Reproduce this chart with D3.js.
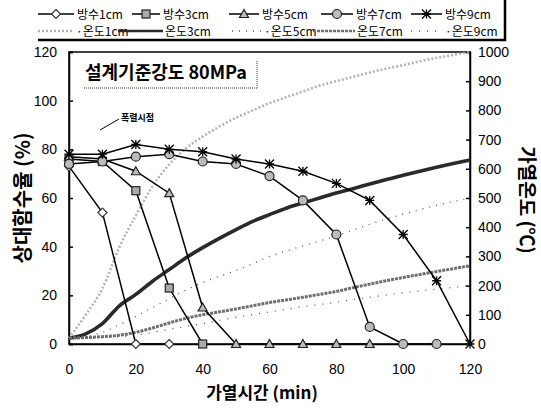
<!DOCTYPE html>
<html>
<head>
<meta charset="utf-8">
<script src="https://cdn.jsdelivr.net/npm/d3@7"></script>
<style>
  body { margin: 0; background: #fff; }
  text { font-family: "Liberation Sans", Arial, sans-serif; }
  .kr { font-family: "Noto Sans CJK KR", "Noto Sans", sans-serif; }
</style>
</head>
<body>
<svg id="chart" width="541" height="408"></svg>
<script>
// moisture (left axis, %), measured every 10 min
const moistTime = [0, 10, 20, 30, 40, 50, 60, 70, 80, 90, 100, 110, 120];
const moist1 = [73, 54, 0, 0];
const moist3 = [76, 75, 63, 23, 0];
const moist5 = [77, 76, 71, 62, 15, 0, 0, 0, 0, 0];
const moist7 = [74, 75, 77, 78, 75, 74, 69, 59, 45, 7, 0, 0];
const moist9 = [78, 78, 82, 80, 79, 76, 74, 71, 66, 59, 45, 26, 0];

// temperature (right axis, ℃), every 5 min
const tempTime = [0, 5, 10, 15, 20, 25, 30, 35, 40, 45, 50, 55, 60, 65, 70, 75, 80, 85, 90, 95, 100, 105, 110, 115, 120];
const temp1 = [20, 100, 190, 330, 440, 540, 615, 670, 710, 745, 775, 800, 825, 845, 865, 885, 900, 915, 930, 943, 955, 968, 980, 990, 1000];
const temp3 = [20, 35, 70, 130, 170, 215, 255, 295, 330, 362, 392, 420, 443, 465, 483, 500, 517, 532, 548, 563, 578, 592, 605, 618, 630];
const temp5 = [20, 25, 40, 65, 95, 125, 155, 185, 210, 232, 252, 275, 300, 318, 336, 353, 370, 390, 410, 428, 445, 460, 475, 488, 500];
const temp7 = [20, 22, 25, 30, 40, 55, 72, 88, 100, 110, 120, 131, 142, 151, 160, 170, 180, 193, 205, 217, 228, 238, 248, 258, 268];
const temp9 = [20, 20, 22, 25, 30, 40, 50, 60, 70, 81, 92, 101, 110, 119, 128, 135, 143, 152, 160, 168, 175, 182, 188, 194, 200];

const xTicks = [0, 20, 40, 60, 80, 100, 120];
const leftTicks = [0, 20, 40, 60, 80, 100, 120];
const rightTicks = [0, 100, 200, 300, 400, 500, 600, 700, 800, 900, 1000];

const moistSeries = [
  {name: "방수1cm", values: moist1, symbol: "diamond"},
  {name: "방수3cm", values: moist3, symbol: "square"},
  {name: "방수5cm", values: moist5, symbol: "triangle"},
  {name: "방수7cm", values: moist7, symbol: "circle"},
  {name: "방수9cm", values: moist9, symbol: "asterisk"}
];
const tempSeries = [
  {name: "·온도1cm", values: temp1, stroke: "#b4b4b4", width: 2.6, dash: "2,2"},
  {name: "온도3cm", values: temp3, stroke: "#2a2a2a", width: 3.6, dash: null},
  {name: "·온도5cm", values: temp5, stroke: "#555", width: 1.3, dash: "1,6"},
  {name: "온도7cm", values: temp7, stroke: "#6e6e6e", width: 3, dash: "3,1"},
  {name: "·온도9cm", values: temp9, stroke: "#555", width: 1.3, dash: "1,7"}
];

const svg = d3.select("#chart");
const x = d3.scaleLinear().domain([0, 120]).range([69, 470]);
const yL = d3.scaleLinear().domain([0, 120]).range([344, 52]);
const yR = d3.scaleLinear().domain([0, 1000]).range([344, 52]);

// plot frame
svg.append("rect")
  .attr("x", x(0)).attr("y", yL(120))
  .attr("width", x(120) - x(0)).attr("height", yL(0) - yL(120))
  .attr("fill", "none").attr("stroke", "#000").attr("stroke-width", 1.5);

// axes
const leftAxis = svg.append("g")
  .attr("transform", `translate(${x(0)},0)`)
  .call(d3.axisLeft(yL).tickValues(leftTicks).tickSize(-4).tickPadding(12));
const rightAxis = svg.append("g")
  .attr("transform", `translate(${x(120)},0)`)
  .call(d3.axisRight(yR).tickValues(rightTicks).tickFormat(d3.format("d")).tickSize(-4).tickPadding(8));
const bottomAxis = svg.append("g")
  .attr("transform", `translate(0,${yL(0)})`)
  .call(d3.axisBottom(x).tickValues(xTicks).tickSize(0).tickPadding(20));

[leftAxis, rightAxis, bottomAxis].forEach(a => {
  a.select(".domain").attr("stroke", "#000").attr("stroke-width", 1.5);
  a.selectAll(".tick line").attr("stroke", "#000").attr("stroke-width", 1.5);
  a.selectAll(".tick text").attr("font-size", 14).attr("fill", "#000")
    .attr("font-family", "Liberation Sans, Arial, sans-serif");
});

// axis titles
svg.append("text").attr("class", "kr")
  .attr("transform", `translate(21,${(yL(0) + yL(120)) / 2}) rotate(-90)`)
  .attr("text-anchor", "middle").attr("dominant-baseline", "central")
  .attr("font-size", 20).attr("font-weight", "bold")
  .text("상대함수율 (%)");
svg.append("text").attr("class", "kr")
  .attr("transform", `translate(528,${(yL(0) + yL(120)) / 2 + 2}) rotate(90)`)
  .attr("text-anchor", "middle").attr("dominant-baseline", "central")
  .attr("font-size", 19).attr("font-weight", "bold")
  .text("가열온도 (℃)");
svg.append("text").attr("class", "kr")
  .attr("x", 262).attr("y", 399)
  .attr("text-anchor", "middle")
  .attr("font-size", 17).attr("font-weight", "bold")
  .text("가열시간 (min)");

// temperature curves
const tLine = d3.line().x((d, i) => x(tempTime[i])).y(d => yR(d)).curve(d3.curveMonotoneX);
svg.append("g").selectAll("path")
  .data(tempSeries)
  .join("path")
  .attr("d", d => tLine(d.values))
  .attr("fill", "none")
  .attr("stroke", d => d.stroke)
  .attr("stroke-width", d => d.width)
  .attr("stroke-dasharray", d => d.dash);

// moisture lines
const mLine = d3.line().x((d, i) => x(moistTime[i])).y(d => yL(d));
const mGroup = svg.append("g");
mGroup.selectAll("path")
  .data(moistSeries)
  .join("path")
  .attr("d", d => mLine(d.values))
  .attr("fill", "none")
  .attr("stroke", "#000")
  .attr("stroke-width", 1.5);

function drawMarker(g, symbol, cx, cy) {
  const s = 4.5;
  if (symbol === "diamond") {
    g.append("path").attr("d", `M${cx},${cy - s}L${cx + s},${cy}L${cx},${cy + s}L${cx - s},${cy}Z`)
      .attr("fill", "#fff").attr("stroke", "#333").attr("stroke-width", 1.2);
  } else if (symbol === "square") {
    g.append("rect").attr("x", cx - s + 0.5).attr("y", cy - s + 0.5).attr("width", 2 * s - 1).attr("height", 2 * s - 1)
      .attr("fill", "#aaa").attr("stroke", "#222").attr("stroke-width", 1.2);
  } else if (symbol === "triangle") {
    g.append("path").attr("d", `M${cx},${cy - s}L${cx + s},${cy + s - 1}L${cx - s},${cy + s - 1}Z`)
      .attr("fill", "#bbb").attr("stroke", "#222").attr("stroke-width", 1.2);
  } else if (symbol === "circle") {
    g.append("circle").attr("cx", cx).attr("cy", cy).attr("r", s)
      .attr("fill", "#bbb").attr("stroke", "#222").attr("stroke-width", 1.2);
  } else if (symbol === "asterisk") {
    g.append("path")
      .attr("d", `M${cx - s},${cy - s}L${cx + s},${cy + s}M${cx + s},${cy - s}L${cx - s},${cy + s}M${cx},${cy - s}L${cx},${cy + s}M${cx - s},${cy}L${cx + s},${cy}`)
      .attr("stroke", "#000").attr("stroke-width", 1.3).attr("fill", "none");
  }
}

moistSeries.forEach(s => {
  const g = mGroup.append("g");
  s.values.forEach((v, i) => drawMarker(g, s.symbol, x(moistTime[i]), yL(v)));
});

// annotation box
svg.append("text").attr("class", "kr")
  .attr("x", 85).attr("y", 79)
  .attr("font-size", 18).attr("font-weight", "bold")
  .text("설계기준강도 80MPa");
svg.append("line").attr("x1", 84).attr("x2", 258).attr("y1", 88).attr("y2", 88)
  .attr("stroke", "#999").attr("stroke-width", 2).attr("stroke-dasharray", "1,1");
svg.append("line").attr("x1", 257).attr("x2", 257).attr("y1", 61).attr("y2", 89)
  .attr("stroke", "#999").attr("stroke-width", 2).attr("stroke-dasharray", "1,1");

// spalling note
svg.append("line").attr("x1", 100).attr("y1", 130).attr("x2", 119).attr("y2", 119)
  .attr("stroke", "#000").attr("stroke-width", 1);
svg.append("text").attr("class", "kr")
  .attr("x", 121).attr("y", 121)
  .attr("font-size", 9).attr("font-weight", "bold")
  .text("폭렬시점");

// legend
const legend = svg.append("g");
legend.append("path").attr("d", "M38,40H505V0")
  .attr("fill", "none").attr("stroke", "#000").attr("stroke-width", 2.5);
const legX = [38, 132, 229, 321, 411];
const legLen = [36, 28, 30, 32, 31];
moistSeries.forEach((s, i) => {
  const x0 = legX[i], x1 = legX[i] + legLen[i];
  legend.append("line").attr("x1", x0).attr("x2", x1).attr("y1", 14).attr("y2", 14)
    .attr("stroke", "#000").attr("stroke-width", 1.5);
  drawMarker(legend, s.symbol, (x0 + x1) / 2, 14);
  legend.append("text").attr("class", "kr").attr("x", x1 + 3).attr("y", 18.5)
    .attr("font-size", 12).text(s.name);
});
const leg2X = [38, 118, 232, 313, 411];
const leg2Len = [36, 45, 30, 42, 32];
tempSeries.forEach((s, i) => {
  const x0 = leg2X[i], x1 = leg2X[i] + leg2Len[i];
  legend.append("line").attr("x1", x0).attr("x2", x1).attr("y1", 31).attr("y2", 31)
    .attr("stroke", s.stroke).attr("stroke-width", Math.min(s.width, 2.4))
    .attr("stroke-dasharray", s.dash);
  legend.append("text").attr("class", "kr").attr("x", x1 + 2).attr("y", 35.5)
    .attr("font-size", 12).text(s.name);
});
</script>
</body>
</html>
